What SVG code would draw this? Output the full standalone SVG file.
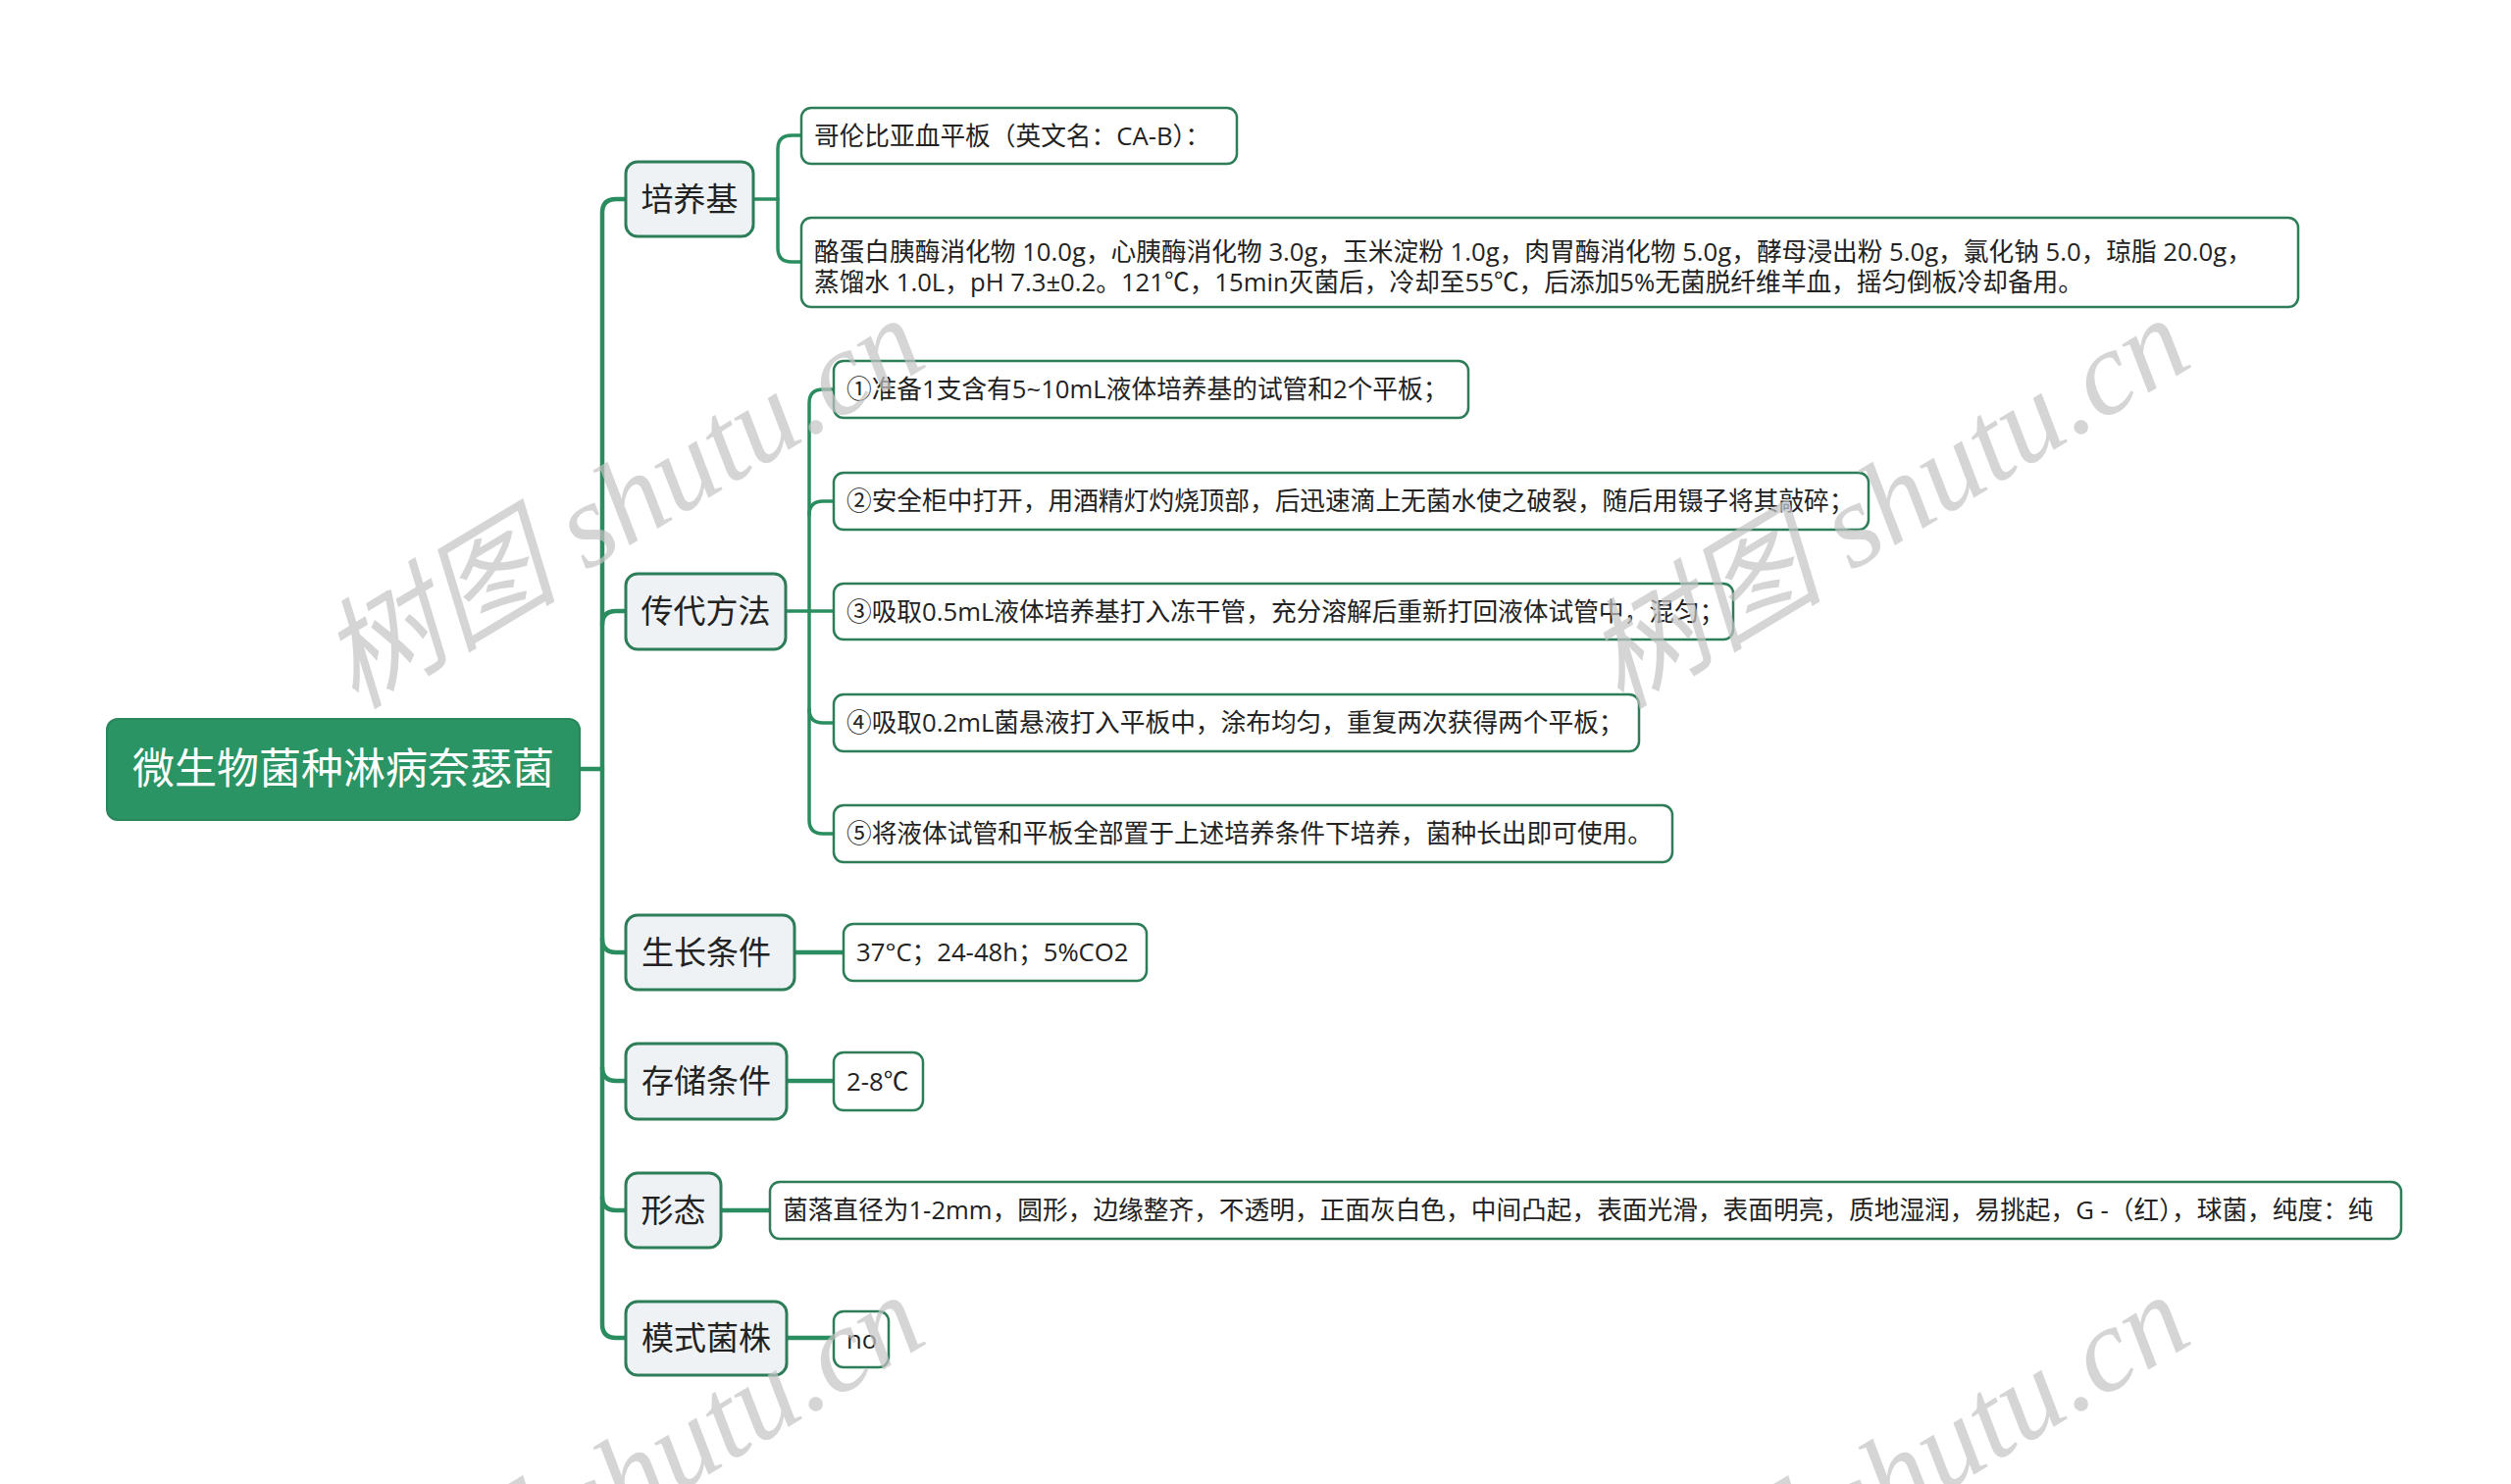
<svg xmlns="http://www.w3.org/2000/svg" width="2560" height="1513" viewBox="0 0 2560 1513">
<style>
.cn{fill:none;stroke:#2a8d5f;stroke-linecap:round;stroke-linejoin:round}
.trunk{stroke-width:4.5}
.sub{stroke-width:3.5}
.root{fill:#2a9464;stroke:#2a8559;stroke-width:2}
.l1{fill:#eef2f5;stroke:#2c7d58;stroke-width:3}
.leaf{fill:#ffffff;stroke:#2c7d58;stroke-width:2.5}
text{font-family:"Open Sans","Noto Sans CJK SC",sans-serif;fill:#222}
.rt{font-size:43px;fill:#ffffff;text-anchor:middle}
.t1{font-size:33px;text-anchor:middle}
.t2{font-size:25.7px}
.wm{font-family:"Liberation Serif","Noto Sans CJK SC",serif;font-style:italic;font-size:122px;fill:#c4c4c4;opacity:0.7}
</style>
<rect width="2560" height="1513" fill="#ffffff"/>
<g id="connectors">
<path class="cn trunk" d="M591,784 H614"/>
<path class="cn trunk" d="M614,784 V217 Q614,203 628,203 H638"/>
<path class="cn trunk" d="M614,784 V1350 Q614,1364 628,1364 H638"/>
<path class="cn trunk" d="M614,637 Q614,623 628,623 H638"/>
<path class="cn trunk" d="M614,957 Q614,971 628,971 H638"/>
<path class="cn trunk" d="M614,1088 Q614,1102 628,1102 H638"/>
<path class="cn trunk" d="M614,1220 Q614,1234 628,1234 H638"/>
<path class="cn sub" d="M768,203 H793"/>
<path class="cn sub" d="M793,203 V152 Q793,138 807,138 H817"/>
<path class="cn sub" d="M793,203 V253 Q793,267 807,267 H817"/>
<path class="cn sub" d="M801,623 H850"/>
<path class="cn sub" d="M825,623 V411 Q825,397 839,397 H850"/>
<path class="cn sub" d="M825,525 Q825,511 839,511 H850"/>
<path class="cn sub" d="M825,623 V836 Q825,850 839,850 H850"/>
<path class="cn sub" d="M825,723 Q825,737 839,737 H850"/>
<path class="cn trunk" d="M810,971 H860"/>
<path class="cn trunk" d="M802,1102 H850"/>
<path class="cn trunk" d="M735,1234 H785"/>
<path class="cn trunk" d="M802,1364 H850"/>
</g>
<g id="root">
<rect class="root" x="109" y="733" width="482" height="103" rx="11"/>
<text class="rt" x="350" y="799">微生物菌种淋病奈瑟菌</text>
</g>
<g id="n-peiyangji">
<rect class="l1" x="638" y="165" width="130" height="76" rx="12"/>
<text class="t1" x="703" y="214.5">培养基</text>
</g>
<g id="n-chuandai">
<rect class="l1" x="638" y="585" width="163" height="77" rx="12"/>
<text class="t1" x="719.5" y="634.5">传代方法</text>
</g>
<g id="n-shengzhang">
<rect class="l1" x="638" y="933" width="172" height="76" rx="12"/>
<text class="t1" x="720" y="982.5">生长条件</text>
</g>
<g id="n-cunchu">
<rect class="l1" x="638" y="1064" width="164" height="77" rx="12"/>
<text class="t1" x="720" y="1113.5">存储条件</text>
</g>
<g id="n-xingtai">
<rect class="l1" x="638" y="1196" width="97" height="76" rx="12"/>
<text class="t1" x="686.5" y="1245.5">形态</text>
</g>
<g id="n-moshi">
<rect class="l1" x="638" y="1327" width="164" height="75" rx="12"/>
<text class="t1" x="720" y="1375.5">模式菌株</text>
</g>
<g id="leaf-cab">
<rect class="leaf" x="817" y="110" width="444" height="57" rx="10"/>
<text class="t2" x="830" y="147.5">哥伦比亚血平板（英文名：CA-B）：</text>
</g>
<g id="leaf-recipe">
<rect class="leaf" x="817" y="222" width="1526" height="91" rx="10"/>
<text class="t2" x="830" y="266">酪蛋白胰酶消化物 10.0g，心胰酶消化物 3.0g，玉米淀粉 1.0g，肉胃酶消化物 5.0g，酵母浸出粉 5.0g，氯化钠 5.0，琼脂 20.0g，</text>
<text class="t2" x="830" y="297">蒸馏水 1.0L，pH 7.3±0.2。121℃，15min灭菌后，冷却至55℃，后添加5%无菌脱纤维羊血，摇匀倒板冷却备用。</text>
</g>
<g id="leaf-step1">
<rect class="leaf" x="850" y="368" width="647" height="58" rx="10"/>
<text class="t2" x="863" y="406">①准备1支含有5~10mL液体培养基的试管和2个平板；</text>
</g>
<g id="leaf-step2">
<rect class="leaf" x="850" y="482" width="1055" height="58" rx="10"/>
<text class="t2" x="863" y="520">②安全柜中打开，用酒精灯灼烧顶部，后迅速滴上无菌水使之破裂，随后用镊子将其敲碎；</text>
</g>
<g id="leaf-step3">
<rect class="leaf" x="850" y="595" width="917" height="57" rx="10"/>
<text class="t2" x="863" y="632.5">③吸取0.5mL液体培养基打入冻干管，充分溶解后重新打回液体试管中，混匀；</text>
</g>
<g id="leaf-step4">
<rect class="leaf" x="850" y="708" width="821" height="58" rx="10"/>
<text class="t2" x="863" y="746">④吸取0.2mL菌悬液打入平板中，涂布均匀，重复两次获得两个平板；</text>
</g>
<g id="leaf-step5">
<rect class="leaf" x="850" y="821" width="855" height="58" rx="10"/>
<text class="t2" x="863" y="859">⑤将液体试管和平板全部置于上述培养条件下培养，菌种长出即可使用。</text>
</g>
<g id="leaf-growth">
<rect class="leaf" x="860" y="942" width="309" height="58" rx="10"/>
<text class="t2" x="873" y="980">37°C；24-48h；5%CO2</text>
</g>
<g id="leaf-storage">
<rect class="leaf" x="850" y="1073" width="91" height="59" rx="10"/>
<text class="t2" x="863" y="1111.5">2-8℃</text>
</g>
<g id="leaf-morph">
<rect class="leaf" x="785" y="1205" width="1663" height="58" rx="10"/>
<text class="t2" x="798" y="1243">菌落直径为1-2mm，圆形，边缘整齐，不透明，正面灰白色，中间凸起，表面光滑，表面明亮，质地湿润，易挑起，G -（红），球菌，纯度：纯</text>
</g>
<g id="leaf-strain">
<rect class="leaf" x="850" y="1337" width="56" height="57" rx="10"/>
<text class="t2" x="863" y="1374.5">no</text>
</g>
<g id="watermark">
<text class="wm" transform="translate(362,724) rotate(-31)">树图 shutu.cn</text>
<text class="wm" transform="translate(1652,724) rotate(-31)">树图 shutu.cn</text>
<text class="wm" transform="translate(362,1720) rotate(-31)">树图 shutu.cn</text>
<text class="wm" transform="translate(1652,1720) rotate(-31)">树图 shutu.cn</text>
</g>
</svg>
